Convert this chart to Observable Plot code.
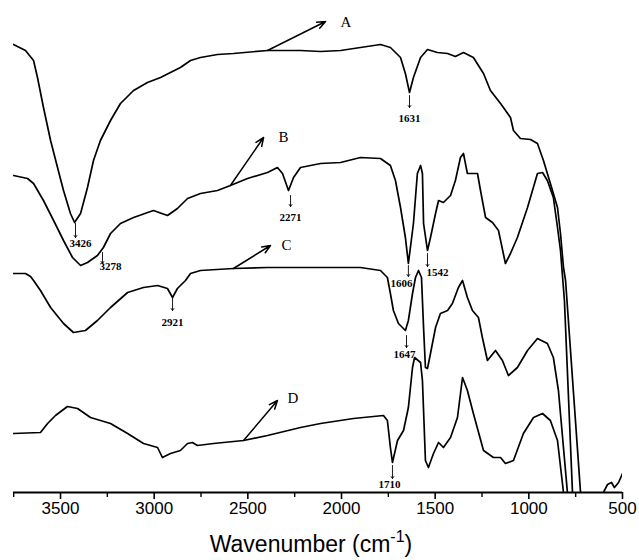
<!DOCTYPE html>
<html><head><meta charset="utf-8">
<script src="https://cdn.jsdelivr.net/npm/d3@7"></script>
<script src="https://cdn.jsdelivr.net/npm/@observablehq/plot@0.6"></script>
<style>body{margin:0;background:#fff} #chart svg{display:block}</style>
</head><body><div id="chart"></div>
<script>
// FTIR spectra: [wavenumber (cm-1), transmittance (arbitrary offset units)]
const curveA = [[3751,448],[3687,442],[3644,432],[3623,415],[3591,385],[3553,352],[3516,325],[3484,302],[3447,279],[3425,270],[3393,279],[3356,305],[3324,332],[3287,352],[3233,372],[3180,389],[3110,402],[3036,410],[2966,415],[2913,420],[2860,425],[2806,432],[2753,435],[2662,438],[2577,439],[2395,442],[2219,442],[2112,441],[2005,442],[1899,445],[1792,448],[1739,445],[1685,435],[1659,419],[1637,400],[1616,415],[1578,435],[1541,443],[1488,440],[1434,439],[1392,436],[1349,440],[1296,435],[1242,419],[1205,402],[1151,389],[1098,375],[1082,362],[1045,354],[991,353],[954,349],[922,332],[885,309],[847,285],[831,259],[815,225],[804,212],[724,0],[698,-68],[644,-108],[618,-18],[602,0],[580,8],[559,10],[543,5],[521,10],[500,19]];
const curveB = [[3751,317],[3676,314],[3644,309],[3591,292],[3537,272],[3484,252],[3436,235],[3393,227],[3356,230],[3303,237],[3271,245],[3233,259],[3180,269],[3110,275],[3004,282],[2929,277],[2876,284],[2822,294],[2753,299],[2662,302],[2593,307],[2502,314],[2395,320],[2342,325],[2315,319],[2283,302],[2256,315],[2219,325],[2112,329],[2005,330],[1899,335],[1792,334],[1739,327],[1712,312],[1685,285],[1659,255],[1643,229],[1616,269],[1595,319],[1578,327],[1568,319],[1562,269],[1541,242],[1525,255],[1498,279],[1482,292],[1456,290],[1418,297],[1392,312],[1365,335],[1349,339],[1328,319],[1301,319],[1274,319],[1258,302],[1231,275],[1194,270],[1162,262],[1125,229],[1098,239],[1061,255],[1007,285],[954,319],[927,320],[901,312],[869,295],[847,265],[831,242],[810,192],[767,0],[746,-68]];
const curveC = [[3751,219],[3687,219],[3660,216],[3644,212],[3607,202],[3553,185],[3484,169],[3431,160],[3367,162],[3303,172],[3233,185],[3142,200],[3057,205],[2982,207],[2929,204],[2902,195],[2876,204],[2833,212],[2806,219],[2753,222],[2577,224],[2395,225],[2112,225],[1899,225],[1792,222],[1755,215],[1739,199],[1723,182],[1696,169],[1659,162],[1643,172],[1621,199],[1605,215],[1589,222],[1573,215],[1562,165],[1552,125],[1541,124],[1525,139],[1498,165],[1472,179],[1434,182],[1408,189],[1376,205],[1354,212],[1328,195],[1301,182],[1269,175],[1248,155],[1221,132],[1178,142],[1141,132],[1109,117],[1061,125],[1007,142],[954,154],[901,149],[869,135],[842,102],[794,0],[778,-48]];
const curveD = [[3751,59],[3607,60],[3569,69],[3527,77],[3463,86],[3409,84],[3340,75],[3233,69],[3142,59],[3057,49],[2982,45],[2956,35],[2913,39],[2860,42],[2822,49],[2796,50],[2769,47],[2683,49],[2523,52],[2395,57],[2219,65],[2112,69],[1936,74],[1776,77],[1755,72],[1739,45],[1728,30],[1701,52],[1669,62],[1643,85],[1621,125],[1610,135],[1578,130],[1568,112],[1552,32],[1536,25],[1509,39],[1482,50],[1456,45],[1418,55],[1381,75],[1354,115],[1328,102],[1296,79],[1242,42],[1189,35],[1151,35],[1125,29],[1082,32],[1029,59],[975,75],[927,79],[885,72],[847,52],[815,0],[799,-38]];

// Series name callouts: name, arrow start (x1,y1), arrow end (x2,y2), text position (tx,ty)
const seriesNames = ["A","B","C","D"];
const seriesArrowFrom = [[2395,442],[2593,307],[2577,224],[2523,52]];
const seriesArrowTo = [[2085,471],[2416,355],[2379,247],[2342,92]];
const seriesTextAt = [[2006,470],[2336,355],[2320,247],[2288,94]];

// Peak annotations: label, wavenumber of arrow, arrow top, arrow bottom, text position
const peakLabels = ["1631","3426","3278","2271","1606","1542","2921","1647","1710"];
const peakArrowX = [1637,3420,3276,2272,1643,1541,2902,1653,1728];
const peakArrowTop = [397,269,240,297,227,239,195,157,27];
const peakArrowBottom = [385,255,229,286,216,226,182,145,14];
const peakTextX = [1637,3393,3233,2272,1680,1488,2902,1664,1744];
const peakTextY = [374,249,226,275,209,220,170,138,8];

const majorTicks = [3500,3000,2500,2000,1500,1000,500];
const minorTicks = [3750,3250,2750,2250,1750,1250,750];

const spectra = [];
[["A",curveA],["B",curveB],["C",curveC],["D",curveD]].forEach(([s,arr]) =>
  arr.forEach(([x,y]) => spectra.push({series:s, x, y})));
const callouts = seriesNames.map((n,i) => ({name:n, x1:seriesArrowFrom[i][0], y1:seriesArrowFrom[i][1], x2:seriesArrowTo[i][0], y2:seriesArrowTo[i][1], tx:seriesTextAt[i][0], ty:seriesTextAt[i][1]}));
const peaks = peakLabels.map((l,i) => ({label:l, x:peakArrowX[i], y1:peakArrowTop[i], y2:peakArrowBottom[i], tx:peakTextX[i], ty:peakTextY[i]}));

const chart = Plot.plot({
  width: 639, height: 560,
  marginLeft: 13, marginRight: 17, marginTop: 0, marginBottom: 68,
  style: {fontFamily: "Liberation Sans, Arial, sans-serif", background: "#fff"},
  x: {domain: [3751, 500], axis: null},
  y: {domain: [0, 492], axis: null},
  marks: [
    Plot.line(spectra, {x: "x", y: "y", z: "series", stroke: "#000", strokeWidth: 1.7, clip: true}),
    Plot.ruleY([0], {stroke: "#000", strokeWidth: 2}),
    Plot.axisX(majorTicks, {tickSize: 7, tickPadding: 2, fontSize: 17, strokeWidth: 1.6, tickFormat: d => String(d), label: null}),
    Plot.axisX(minorTicks, {tickSize: 5, strokeWidth: 1.4, tickFormat: () => "", label: null}),
    Plot.arrow(callouts, {x1: "x1", y1: "y1", x2: "x2", y2: "y2", stroke: "#000", strokeWidth: 1.5, headLength: 9, headAngle: 45}),
    Plot.text(callouts, {x: "tx", y: "ty", text: "name", fontFamily: "Liberation Serif, serif", fontSize: 15, fill: "#000", textAnchor: "start"}),
    Plot.arrow(peaks, {x1: "x", y1: "y1", x2: "x", y2: "y2", stroke: "#000", strokeWidth: 0.9, headLength: 4, headAngle: 70}),
    Plot.text(peaks, {x: "tx", y: "ty", text: "label", fontFamily: "Liberation Serif, serif", fontSize: 11, fontWeight: "bold", fill: "#000"})
  ]
});
document.getElementById("chart").appendChild(chart);

const title = d3.select(chart).append("text")
  .attr("x", 311).attr("y", 552).attr("text-anchor", "middle")
  .attr("font-family", "Liberation Sans, Arial, sans-serif").attr("font-size", 23).attr("fill", "#000");
title.append("tspan").text("Wavenumber (cm");
title.append("tspan").attr("dy", -10).attr("font-size", 16).text("-1");
title.append("tspan").attr("dy", 10).text(")");
</script></body></html>
